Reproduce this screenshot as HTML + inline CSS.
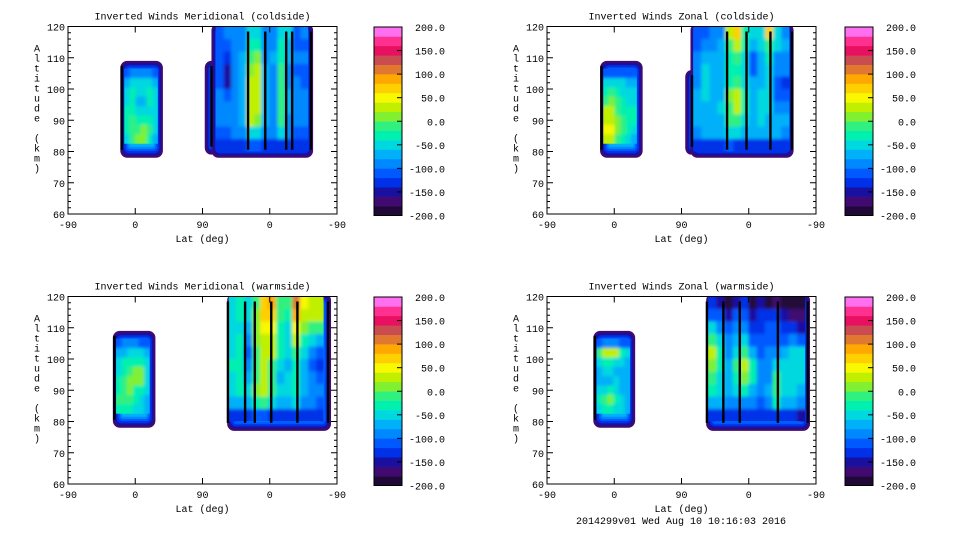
<!DOCTYPE html>
<html><head><meta charset="utf-8"><style>
html,body{margin:0;padding:0;background:#fff;}
svg{display:block;}
text{font-family:"Liberation Mono",monospace;font-size:10px;fill:#000;}
</style></head><body>
<svg id="chart" width="960" height="540" viewBox="0 0 960 540" xmlns="http://www.w3.org/2000/svg">
<defs><filter id="soft" x="-5%" y="-5%" width="110%" height="110%"><feGaussianBlur stdDeviation="1.6"/></filter></defs>
</svg>
<script>
// ---- colour scale data ----
const levelTicks = [200,150,100,50,0,-50,-100,-150,-200];
const bandColors = ["#200838","#400a70","#1a10a0","#0030e8","#0058ff","#0088ff","#00b0f8","#00d8e0","#00f0b0","#30f080","#80f030","#c0f000","#f8f800","#ffd000","#ffa800","#e07830","#c84c50","#e81060","#ff3090","#ff70f0"];
const xTickLabels = ["-90","0","90","0","-90"];
const xTickU = [0,90,180,270,360];
const yTicks = [60,70,80,90,100,110,120];
const titles = ["Inverted Winds Meridional (coldside)","Inverted Winds Zonal (coldside)","Inverted Winds Meridional (warmside)","Inverted Winds Zonal (warmside)"];

// ---- left-blob grids (rows top->bottom) ----
const leftAlts = [105,102,99,96,93,90,87,84];
const p1LeftLats = [79,86.5,94,101.5,109,116.5];
const p1LeftVals = [[-120,-100,-100,-100,-100,-120],[-80,-60,-60,-60,-60,-80],[-60,-40,-50,-60,-40,-60],[-50,-30,-70,-80,-40,-60],[-40,-30,-50,-60,-50,-60],[-40,-20,-40,-40,-40,-60],[-30,-10,-20,0,-20,-60],[-60,-10,10,0,-40,-80]];
const p2LeftLats = [79,86.5,94,101.5,109,116.5];
const p2LeftVals = [[-120,-110,-110,-110,-110,-120],[-60,-50,-60,-60,-70,-80],[-40,-20,-40,-50,-60,-60],[-20,0,-20,-40,-60,-50],[20,20,-10,-30,-40,-40],[30,30,0,-20,-30,-40],[50,40,10,-20,-30,-50],[20,20,-20,-40,-50,-70]];
const p3LeftLats = [68,75.5,83,90.5,98,105.5];
const p3LeftVals = [[-110,-100,-100,-100,-110,-120],[-80,-70,-60,-60,-60,-80],[-60,-40,-30,-30,-40,-60],[-50,-30,-10,0,10,-50],[-40,-10,0,0,10,-50],[-30,-10,0,-30,-40,-60],[-20,-10,-20,-40,-50,-70],[-40,-30,-40,-50,-60,-80]];
const p4LeftLats = [70,77.5,85,92.5,100,107.5];
const p4LeftVals = [[-110,-100,-100,-100,-110,-120],[-20,20,30,20,-40,-60],[-60,-40,-40,-50,-60,-70],[-70,-60,-60,-70,-70,-80],[-70,-70,-70,-60,-70,-80],[-60,-50,-40,-60,-70,-80],[-40,-10,0,-40,-60,-70],[-60,-40,-40,-50,-60,-80]];

// ---- right-blob grids ----
const rightAlts = [118,114,110,106,102,98,94,90,86,82];
const p1RightLats = [203,214,223,234,244,254,264,275,286,295,306,316];
const p1RightVals = [[-110,-100,-90,-100,-60,-60,-100,-90,-50,-60,-110,-100],[-110,-120,-90,-90,-40,-40,-100,-90,-40,-70,-110,-110],[-120,-140,-100,-80,-20,0,-90,-80,-30,-80,-90,-100],[-120,-150,-100,-80,0,20,-80,-90,-20,-90,-110,-120],[-110,-150,-100,-80,20,30,-80,-90,-20,-90,-100,-110],[-100,-110,-90,-80,30,30,-70,-90,-10,-80,-90,-100],[-100,-100,-90,-80,30,30,-70,-100,-10,-80,-90,-100],[-100,-100,-90,-80,30,10,-80,-100,-10,-90,-100,-100],[-110,-110,-100,-100,-50,-60,-100,-100,-60,-100,-110,-110],[-130,-130,-130,-130,-120,-120,-130,-130,-130,-130,-130,-130]];
const p2RightLats = [201,212,223,233,244,255,265,276,287,297,308,319];
const p2RightVals = [[-120,-120,-100,-100,30,60,-40,-60,-60,60,-60,-90],[-110,-90,-90,-80,-20,30,-40,-80,-60,-10,-60,-80],[-100,-80,-80,-70,-40,-20,-50,-120,-70,-40,-90,-100],[-90,-60,-70,-70,-40,-30,-50,-110,-70,-50,-90,-100],[-90,-60,-80,-80,-30,-10,-50,-80,-70,-60,-110,-130],[-80,-60,-80,-80,0,30,-40,-70,-60,-60,-120,-120],[-80,-80,-70,-60,-10,30,-40,-70,-60,-60,-90,-90],[-80,-80,-70,-70,-20,-20,-60,-80,-60,-70,-80,-80],[-90,-80,-80,-80,-50,-60,-70,-80,-80,-80,-80,-90],[-130,-130,-130,-130,-120,-130,-130,-130,-130,-130,-130,-140]];
const p3RightLats = [220,230,241,252,262,273,284,295,305,316,327,337];
const p3RightVals = [[-60,-40,-60,-20,70,90,-20,-20,110,40,30,30],[-60,-40,-60,0,60,70,-20,-30,90,30,20,30],[-50,-50,-80,0,50,40,-30,-50,50,0,-20,-10],[-50,-40,-100,0,30,30,-40,-60,30,-40,-60,-80],[-50,-40,-120,-20,20,20,-40,-60,-20,-60,-100,-120],[-40,-40,-100,-10,20,-10,-60,-80,-40,-70,-110,-140],[-50,-40,-80,-10,30,-20,-80,-60,-40,-70,-100,-120],[-50,-40,-60,0,30,-20,-60,-60,-30,-70,-90,-100],[-80,-70,-80,-40,-20,-50,-80,-80,-60,-90,-100,-110],[-130,-130,-130,-120,-120,-130,-130,-130,-130,-130,-130,-130]];
const p4RightLats = [221,232,243,254,264,275,286,297,307,318,329,340];
const p4RightVals = [[-140,-150,-190,-150,-130,-190,-150,-190,-170,-190,-190,-190],[-120,-120,-150,-120,-110,-150,-130,-140,-140,-160,-170,-180],[-60,-90,-120,-100,-90,-130,-130,-120,-120,-130,-140,-150],[-20,-60,-100,-80,-60,-110,-120,-110,-110,-110,-100,-110],[30,-40,-90,-60,-20,-80,-110,-100,-90,-80,-60,-60],[10,-40,-80,-20,20,-40,-100,-90,-60,-60,-50,-50],[-20,-50,-70,-30,10,-40,-100,-90,-20,-50,-50,-60],[-40,-60,-70,-60,-40,-80,-100,-80,-10,-60,-60,-70],[-70,-80,-90,-90,-90,-100,-110,-90,-40,-70,-80,-90],[-130,-130,-130,-130,-130,-130,-130,-130,-130,-130,-140,-150]];

// ---- blob extents [u0,u1,alt0,alt1] and dense-contour (black) lines ----
const p1Blobs = [[70,127,78,109],[183,200,79,109],[192,328,78,121]];
const p2Blobs = [[71,128,78,109],[185,200,79,106],[192,330,78,121]];
const p3Blobs = [[60,117,78,109],[213,352,77,121]];
const p4Blobs = [[62,118,78,109],[213,352,77,121]];
const p1Lines = [72,192,241,264,292,300,325];
const p2Lines = [73,194,241,267,299,328];
const p3Lines = [62,214,237,250,272,307,348];
const p4Lines = [64,214,236,258,309,349];

const panels = [
 {ox:68,oy:26.5,cbx:374,blobs:p1Blobs,lines:p1Lines,grids:[[p1LeftLats,leftAlts,p1LeftVals,3],[p1RightLats,rightAlts,p1RightVals,4]]},
 {ox:547,oy:26.5,cbx:845,blobs:p2Blobs,lines:p2Lines,grids:[[p2LeftLats,leftAlts,p2LeftVals,3],[p2RightLats,rightAlts,p2RightVals,4]]},
 {ox:68,oy:296.5,cbx:374,blobs:p3Blobs,lines:p3Lines,grids:[[p3LeftLats,leftAlts,p3LeftVals,3],[p3RightLats,rightAlts,p3RightVals,4]]},
 {ox:547,oy:296.5,cbx:845,blobs:p4Blobs,lines:p4Lines,grids:[[p4LeftLats,leftAlts,p4LeftVals,3],[p4RightLats,rightAlts,p4RightVals,4]]}
];
const W=269, H=187.5;
const NS="http://www.w3.org/2000/svg";
const svg=document.getElementById('chart');
function mk(tag,attrs,parent){const e=document.createElementNS(NS,tag);for(const k in attrs)e.setAttribute(k,attrs[k]);(parent||svg).appendChild(e);return e;}
function colorFor(v){let i=Math.floor((v+200)/20);if(i<0)i=0;if(i>19)i=19;return bandColors[i];}

panels.forEach((p,pi)=>{
  const xs=u=>p.ox+u*W/360;
  const ys=a=>p.oy+(120-a)*H/60;
  const g=mk('g',{});
  
  
  const clipId='clip'+pi;
  const cp=mk('clipPath',{id:clipId},g);
  mk('rect',{x:p.ox,y:p.oy,width:W,height:H},cp);
  const field=mk('g',{'clip-path':'url(#'+clipId+')'},g);
  
  
  // blob rings
  p.blobs.forEach((b,bi)=>{
    const x0=xs(b[0]),x1=xs(b[1]),y0=ys(b[3]),y1=ys(b[2]);
    for(let k=0;k<6;k++){
      const ins=k*1.8, insY=k*2.2;
      const r=mk('rect',{x:x0+ins,y:y0+insY,width:Math.max(1,x1-x0-2*ins),height:Math.max(1,y1-y0-2*insY),rx:Math.max(7-k,2),fill:bandColors[1+k]},field);
      
      
    }
  });
  // grid cells
  p.grids.forEach(gr=>{
    const lats=gr[0],alts=gr[1],vals=gr[2],dA=gr[3];
    const dU=lats[1]-lats[0];
    const uMin=lats[0]-dU/2,uMax=lats[lats.length-1]+dU/2;
    const aMax=alts[0]+dA/2,aMin=alts[alts.length-1]-dA/2;
    const gcId='gc'+pi+'_'+lats[0];
    const gc=mk('clipPath',{id:gcId},g);
    mk('rect',{x:xs(uMin),y:ys(aMax),width:xs(uMax)-xs(uMin),height:ys(aMin)-ys(aMax)},gc);
    const outer=mk('g',{'clip-path':'url(#'+gcId+')'},field);
    const gg=mk('g',{filter:'url(#soft)'},outer);
    
    
    for(let r=0;r<alts.length;r++){
      for(let c=0;c<lats.length;c++){
        const uL=c>0?(lats[c-1]+lats[c])/2:lats[c]-dU/2-3;
        const uR=c<lats.length-1?(lats[c]+lats[c+1])/2:lats[c]+dU/2+3;
        const yT=r>0?ys(alts[r]+dA/2):ys(alts[r]+dA/2)-3;
        const yB=r<alts.length-1?ys(alts[r]-dA/2):ys(alts[r]-dA/2)+3;
        const x0=xs(uL),x1=xs(uR);
        const cell=mk('rect',{x:x0,y:yT,width:x1-x0+0.4,height:yB-yT+0.4,fill:colorFor(vals[r][c])},gg);
        
        
      }
    }
  });
  // dense contour lines
  p.lines.forEach(u=>{
    const b=p.blobs.find(bb=>u>=bb[0]&&u<=bb[1])||p.blobs[0];
    const top=ys(Math.min(b[3],120))+5;
    const ln=mk('rect',{x:xs(u)-1.2,y:top,width:2.4,height:ys(b[2])-top-8,fill:'#000'},field);
    
    
  });
  // frame
  const fr=mk('rect',{x:p.ox,y:p.oy,width:W,height:H,fill:'none',stroke:'#000','stroke-width':1},g);
  
  
  // y ticks
  for(let a=60;a<=120;a+=2){
    const len=(a%10===0)?6:3;
    mk('line',{x1:p.ox,x2:p.ox+len,y1:ys(a),y2:ys(a),stroke:'#000'},g);
    mk('line',{x1:p.ox+W,x2:p.ox+W-len,y1:ys(a),y2:ys(a),stroke:'#000'},g);
  }
  yTicks.forEach(a=>{
    const t=mk('text',{x:p.ox-3,y:ys(a)+4,'text-anchor':'end'},g);t.textContent=a;
    
    
  });
  xTickU.forEach((u,i)=>{
    mk('line',{x1:xs(u),x2:xs(u),y1:p.oy+H,y2:p.oy+H-6,stroke:'#000'},g);
    mk('line',{x1:xs(u),x2:xs(u),y1:p.oy,y2:p.oy+6,stroke:'#000'},g);
    const t=mk('text',{x:xs(u),y:p.oy+H+14,'text-anchor':'middle'},g);t.textContent=xTickLabels[i];
    
    
  });
  const xl=mk('text',{x:p.ox+W/2,y:p.oy+H+28,'text-anchor':'middle'},g);xl.textContent='Lat (deg)';
  
  
  const tt=mk('text',{x:p.ox+W/2,y:p.oy-7,'text-anchor':'middle'},g);tt.textContent=titles[pi];
  
  
  const yl=mk('text',{x:p.ox-31,y:p.oy+25,'text-anchor':'middle'},g);
  
  
  'Altitude (km)'.split('').forEach((ch,i)=>{const ts=mk('tspan',{x:p.ox-31,y:p.oy+25+i*10},yl);ts.textContent=ch;});
  // colorbar
  const cb=mk('g',{},g);
  
  
  const cbTop=p.oy+0.5,cbH=H+1,cbW=28;
  const bh=cbH/bandColors.length;
  bandColors.forEach((c,i)=>{mk('rect',{x:p.cbx,y:cbTop+cbH-(i+1)*bh,width:cbW,height:bh+0.3,fill:c},cb);});
  mk('rect',{x:p.cbx,y:cbTop,width:cbW,height:cbH,fill:'none',stroke:'#000'},cb);
  levelTicks.forEach(v=>{
    const y=cbTop+cbH*(200-v)/400;
    mk('line',{x1:p.cbx+cbW-5,x2:p.cbx+cbW,y1:y,y2:y,stroke:'#000'},cb);
    const t=mk('text',{x:p.cbx+71,y:y+4,'text-anchor':'end'},cb);t.textContent=v.toFixed(1);
    
    
  });
});
const ft=mk('text',{x:681,y:524,'text-anchor':'middle'});
ft.textContent='2014299v01 Wed Aug 10 10:16:03 2016';


</script>
</body></html>
